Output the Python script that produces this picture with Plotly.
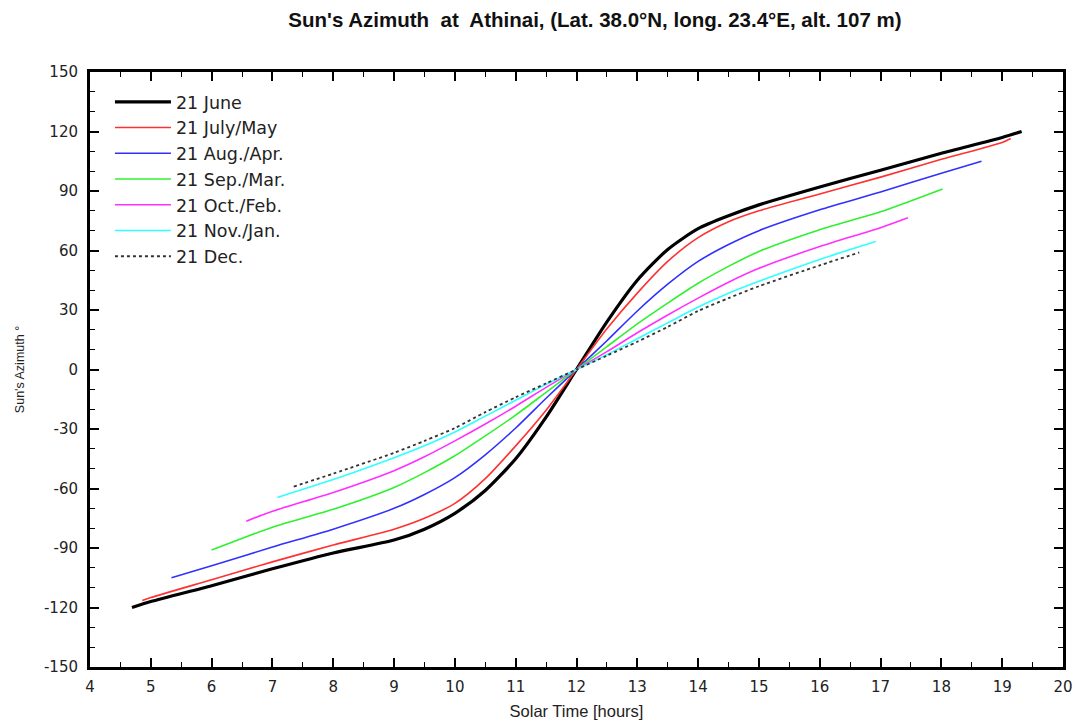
import plotly.graph_objects as go

# ---- data ----
june_t = [4.69, 5, 6, 7, 8, 9, 9.5, 10, 10.5, 11, 11.5, 12, 12.5, 13, 13.5, 14, 14.5, 15, 16, 17, 18, 19, 19.32]
june_az = [-120, -117, -109, -100.5, -92.5, -86, -80.5, -72.5, -61, -45, -24, 0, 24, 45, 60.5, 71, 77.5, 83, 92, 100.5, 109, 117, 120]

julmay_t = [4.86, 5, 6, 7, 8, 9, 9.5, 10, 10.5, 11, 11.5, 12, 12.5, 13, 13.5, 14, 14.5, 15, 16, 17, 18, 19, 19.14]
julmay_az = [-116.5, -115, -106, -97, -88.5, -80.5, -75, -67.5, -55, -38.5, -20.5, 0, 20.5, 38.5, 54.5, 66.5, 74.5, 80, 88.5, 97, 106, 114.5, 116.5]

augapr_t = [5.34, 6, 7, 8, 9, 9.5, 10, 10.5, 11, 11.5, 12, 12.5, 13, 13.5, 14, 14.5, 15, 16, 17, 18, 18.66]
augapr_az = [-105, -99, -89.5, -80.5, -70, -63, -54.5, -43, -29.5, -14.5, 0, 14.5, 29.5, 43, 54.5, 63, 70, 80.5, 89.5, 99, 105]

sepmar_t = [6.0, 7, 8, 9, 9.5, 10, 10.5, 11, 11.5, 12, 12.5, 13, 13.5, 14, 14.5, 15, 16, 17, 18.02]
sepmar_az = [-91, -79.5, -70.5, -59.5, -52, -43.5, -33.5, -23, -11.5, 0, 11.5, 23, 33.5, 43.5, 52, 59.5, 70.5, 79.5, 91]

octfeb_t = [6.57, 7, 8, 9, 9.5, 10, 10.5, 11, 11.5, 12, 12.5, 13, 13.5, 14, 14.5, 15, 16, 17, 17.45]
octfeb_az = [-76.5, -71.5, -62, -51, -44, -36, -27.5, -18.5, -9, 0, 9, 18.5, 27.5, 36, 44, 51, 62, 71.5, 76.5]

novjan_t = [7.08, 8, 9, 9.5, 10, 10.5, 11, 11.5, 12, 12.5, 13, 13.5, 14, 14.5, 15, 16, 16.92]
novjan_az = [-64.5, -55.5, -44.5, -38.5, -31.5, -23.5, -15.5, -7.5, 0, 7.5, 15.5, 23.5, 31.5, 38.5, 44.5, 55.5, 64.5]

dec_t = [7.35, 8, 9, 9.5, 10, 10.5, 11, 11.5, 12, 12.5, 13, 13.5, 14, 14.5, 15, 16, 16.65]
dec_az = [-59, -52.5, -42, -36, -29.5, -21.5, -14, -7, 0, 7, 14, 21.5, 29.5, 36, 42, 52.5, 59]

series_names = ["21 June", "21 July/May", "21 Aug./Apr.", "21 Sep./Mar.",
                "21 Oct./Feb.", "21 Nov./Jan.", "21 Dec."]

x_ticks = list(range(4, 21))
y_ticks = list(range(-150, 151, 30))

# ---- styles ----
styles = [
    dict(color="#000000", width=3.2, dash="solid"),
    dict(color="#ff3030", width=1.6, dash="solid"),
    dict(color="#3030ff", width=1.6, dash="solid"),
    dict(color="#30f030", width=1.6, dash="solid"),
    dict(color="#ff30ff", width=1.6, dash="solid"),
    dict(color="#30ffff", width=1.6, dash="solid"),
    dict(color="#333333", width=1.8, dash="dot"),
]

data = [(june_t, june_az), (julmay_t, julmay_az), (augapr_t, augapr_az),
        (sepmar_t, sepmar_az), (octfeb_t, octfeb_az), (novjan_t, novjan_az),
        (dec_t, dec_az)]

fig = go.Figure()
for (t, az), name, st in zip(data, series_names, styles):
    fig.add_trace(go.Scatter(x=t, y=az, mode="lines", name=name,
                             line=dict(shape="spline", smoothing=0.7, **st)))

font_main = "Liberation Sans, Arial, sans-serif"
font_wide = "DejaVu Sans, Verdana, sans-serif"

# page body has an 8px margin, so the figure is placed at (8, 8)
fig.update_layout(
    width=1076, height=716,
    margin=dict(l=82, r=21, t=64, b=57, autoexpand=False),
    paper_bgcolor="white", plot_bgcolor="white",
    title=dict(text="<b>Sun's Azimuth  at  Athinai, (Lat. 38.0°N, long. 23.4°E, alt. 107 m)</b>",
               xref="container", x=0.5455, xanchor="center",
               yref="container", y=0.983, yanchor="middle",
               font=dict(family=font_main, size=20.5, color="#111")),
    showlegend=True,
    legend=dict(x=0.0205, y=0.98, xanchor="left", yanchor="top",
                bgcolor="rgba(0,0,0,0)", borderwidth=0,
                font=dict(family=font_wide, size=17.5, color="#222"),
                itemwidth=56, tracegroupgap=0),
    font=dict(family=font_main, color="#222"),
)

fig.update_xaxes(
    range=[4, 20], tickvals=x_ticks, ticktext=[str(v) for v in x_ticks],
    ticks="inside", ticklen=9, tickwidth=1.5, tickcolor="#000",
    minor=dict(dtick=0.5, ticks="inside", ticklen=5, tickwidth=1.2, tickcolor="#000"),
    showline=True, linewidth=3, linecolor="#000", mirror="ticks",
    showgrid=False, zeroline=False, ticklabelstandoff=4, automargin=False,
    tickfont=dict(family=font_wide, size=15, color="#222"),
    title=dict(text="Solar Time [hours]", standoff=11,
               font=dict(family=font_main, size=16.5, color="#222")),
)
fig.update_yaxes(
    range=[-150, 150], tickvals=y_ticks, ticktext=[str(v) for v in y_ticks],
    ticks="inside", ticklen=9, tickwidth=1.5, tickcolor="#000",
    minor=dict(dtick=10, ticks="inside", ticklen=5, tickwidth=1.2, tickcolor="#000"),
    showline=True, linewidth=3, linecolor="#000", mirror="ticks",
    showgrid=False, zeroline=False, ticklabelstandoff=6, automargin=False,
    tickfont=dict(family=font_wide, size=15, color="#222"),
    title=dict(text="Sun's Azimuth °", standoff=17,
               font=dict(family=font_main, size=12.5, color="#222")),
)

fig.write_html("out.html")
